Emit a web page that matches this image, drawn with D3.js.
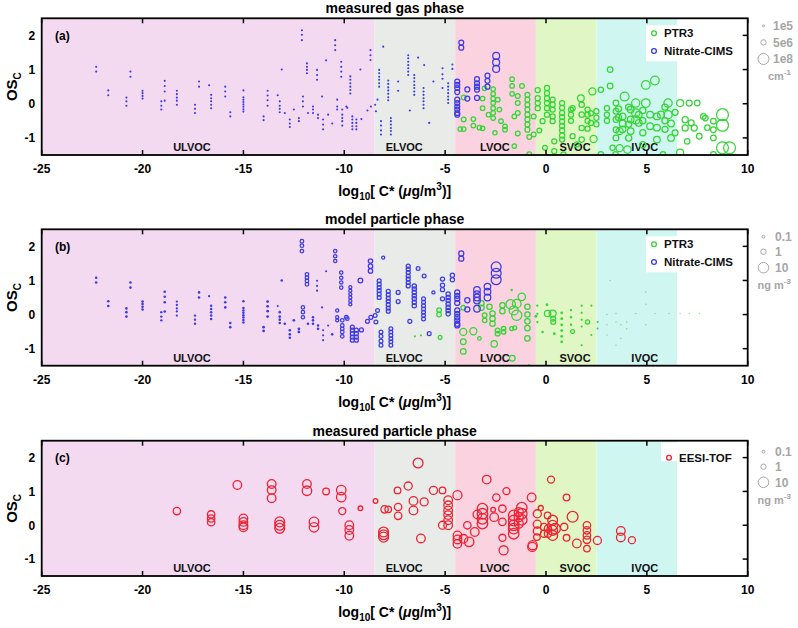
<!DOCTYPE html>
<html><head><meta charset="utf-8">
<script src="https://cdn.jsdelivr.net/npm/d3@7"></script>
<style>body{margin:0;background:#fff}svg{display:block;font-family:"Liberation Sans",Arial,Helvetica,sans-serif}</style>
</head><body><svg id="chart" width="798" height="628"></svg>
<script>
// ---------------- DATA ----------------
const xTicks = [-25, -20, -15, -10, -5, 0, 5, 10];
const yTicks = [-1, 0, 1, 2];
const regionNames = ['ULVOC', 'ELVOC', 'LVOC', 'SVOC', 'IVOC'];
const regionBounds = [-25, -8.5, -4.5, -0.5, 2.5, 6.5];
const regionLabelX = [-17.55, -7.03, -2.53, 1.44, 4.9];
const panelTitles = ['measured gas phase', 'model particle phase', 'measured particle phase'];
const panelLetters = ['(a)', '(b)', '(c)'];
const gasSizeLegend = [1e5, 5e6, 1e8];
const gasSizeLabels = ['1e5', '5e6', '1e8'];
const particleSizeLegend = [0.1, 1, 10];
const particleSizeLabels = ['0.1', '1', '10'];

// Nitrate-CIMS: columns of compounds (log10 C*, OSc values), gas conc (cm-3), model particle mass (ng m-3)
const nitrateX = [-22.3,-21.7,-20.8,-20.6,-20.0,-19.07,-18.9,-18.3,-17.4,-17.2,-16.7,-16.6,-15.9,-15.65,-15.0,-14.0,-13.8,-13.3,-13.2,-13.1,-12.95,-12.7,-12.5,-12.25,-12.1,-12.05,-11.85,-11.8,-11.55,-11.35,-11.3,-11.1,-11.05,-10.9,-10.8,-10.6,-10.45,-10.35,-10.15,-10.1,-9.9,-9.85,-9.7,-9.6,-9.4,-9.2,-9.15,-8.85,-8.7,-8.68,
  -8.47,-8.35,-8.43,-8.27,-8.18,-8.07,-7.82,-7.69,-7.33,-6.83,-6.75,-6.53,-6.34,-6.04,-6.07,-5.79,-5.58,-5.13,-4.85,-4.64,
  -4.2,-4.4,-3.9,-3.42,-2.9,-2.47];
const nitrateOSc = [[1.08,0.94],[0.39,0.25],[0.18,0.07,-0.06],[0.94,0.79],[0.38,0.31,0.23,0.15],[0.07,-0.06,-0.17],[0.67,0.52,0.36,0.09],[0.38,0.28,0.18,0.09,-0.03],[-0.03,-0.15,-0.27],[0.65,0.5],[0.54],[0.26,0.16,0.07,-0.03,-0.13],[0.5,0.36,0.21],[-0.25,-0.37],[0.39,0.19,0.12,0.05,-0.02,-0.09,-0.16,-0.23],[-0.37,-0.48],[0.38,0.24,0.1,-0.06],[0.25],[0.07,-0.06,-0.15,-0.25],[1.0],[-0.27],[-0.46,-0.58,-0.68],[-0.17],[-0.42,-0.51],[2.15,2.02,1.86],[0.21,0.07,-0.08],[1.18,1.08,0.99,0.89],[-0.27],[-0.08,-0.17,-0.27],[0.99,0.84,0.7],[-0.32,-0.42],[0.21],[-0.46,-0.61,-0.75],[1.27],[-0.32],[-0.58],[1.86,1.71,1.57],[0.12,-0.08,-0.17],[1.23,1.08,0.94,0.79],[-0.17,-0.32,-0.42,-0.51,-0.64],[-0.08],[-0.12],[0.8,0.7,0.6,0.5,0.4,0.3],[-0.37,-0.46,-0.56,-0.66,-0.75],[-0.46,-0.56,-0.66,-0.75],[1.0],[-0.45],[-0.2],[1.57,1.42,1.28],[-0.08],
  [-0.03],[0.12],[-0.22],[0.99,0.89,0.79,0.7,0.6,0.5],[-0.51,-0.64,-0.78,-0.9],[1.67],[0.68,0.58,0.48,0.39,0.29,0.19,0.1],[-0.42,-0.51,-0.61,-0.71,-0.8,-0.9],[0.65,0.38],[1.42,1.33,1.23,1.13,1.04,0.94,0.84],[-0.2],[0.84,0.75,0.65,0.55,0.46,0.36,0.26],[1.35],[1.13],[0.46,0.36,0.26,0.16,0.07,-0.03,-0.13],[-0.56],[0.65],[1.04,0.86,0.73,0.46],[0.6,0.5,0.41,0.31,0.21,0.12,0.02],[1.15,1.02],
  [1.79,1.64],[0.65,0.55,0.46,0.34,0.12,0.02,-0.08,-0.17,-0.27,-0.32],[0.42,0.15],[0.72,0.6,0.5,0.41,0.17],[0.82,0.67,0.5],[1.4,1.21,1.02]];
const nitrateGasConc = [1e5,1e5,1e5,1e5,1e5,1e5,1e5,1e5,1e5,1e5,1e5,1e5,1e5,1e5,1e5,1e5,1e5,1e5,1e5,1e5,1e5,1e5,1e5,1e5,1e5,1e5,1e5,1e5,1e5,1e5,1e5,1e5,1e5,1e5,1e5,1e5,1e5,1e5,1e5,1e5,1e5,1e5,1e5,1e5,1e5,1e5,1e5,1e5,1e5,1e5,
  1e5,1e5,1e5,1e5,1e5,1e5,1e5,1e5,1e5,1e5,1e5,1e5,1e5,1e5,1e5,1e5,1e5,1e5,1e5,1e5,
  3.5e6,3.5e6,3.5e6,3.5e6,3.5e6,1.4e7];
const nitrateParticleMass = [0.08,0.08,0.08,0.08,0.08,0.06,0.08,0.05,0.06,0.08,0.05,0.07,0.08,0.08,0.07,0.1,0.1,0.04,0.08,0.08,0.08,0.08,0.1,0.1,0.25,0.2,0.25,0.08,0.08,0.04,0.08,0.04,0.04,0.04,0.04,0.08,0.2,0.15,0.2,0.25,0.25,0.25,0.15,0.35,0.35,0.6,0.35,0.35,0.5,0.35,
  0.3,0.3,0.3,0.35,0.3,0.15,0.35,0.3,0.35,0.35,0.35,0.45,0.3,0.3,0.3,0.3,0.15,0.4,0.45,0.45,
  0.8,0.8,0.8,2,2,8];

// PTR3 gas phase: [log10 C*, [OSc...], conc cm-3]
const ptr3Gas = [
 [-4.08,[0.18,-0.46],3e6],[-4.25,[-0.74],2.5e6],[-4.08,[-0.74],2.5e6],[-3.6,[-0.45,-0.64],2.5e6],
 [-3.14,[0.15,-0.13,-0.72],2.5e6],[-3.3,[-0.7],2.5e6],[-3.05,[0.45],2.5e6],[-2.85,[-0.32],2.5e6],
 [-2.62,[0.43,0.29,0.15,0.02,-0.13,-0.27,-0.42],2.5e6],[-2.53,[-0.85],2e6],[-2.39,[0.12],2.5e6],
 [-2.31,[-0.17],2.5e6],[-2.23,[-0.51],2.5e6],[-2.03,[-0.66,-0.76],2.5e6],[-1.68,[0.72,0.52,0.29],2.5e6],
 [-1.57,[-0.37,-1.24],2.5e6],[-1.4,[0.23,0.02,-0.27,-0.87],3e6],[-1.19,[0.52],3e6],
 [-0.92,[0.26,0.12,-0.03,-0.17,-0.32,-0.46,-0.61,-0.76],3.5e6],[-0.83,[-0.97,-1.48],3e6],[-0.61,[-0.9,-0.37],3e6],
 [-0.41,[0.4,0.16,0.02,-0.13],4e6],[-0.33,[-0.78],3e6],[-0.17,[-0.51],4e6],[-0.05,[-1.29],3e6],
 [0.05,[0.46,0.31,0.16,0.02,-0.13,-0.32],4e6],[0.33,[0.12,-0.03,-0.17,-0.37,-0.51],4e6],[0.41,[-1.1,-1.39],4e6],
 [0.8,[0.02,-0.12,-0.27,-0.39,-0.52,-0.65,-0.78,-0.93,-1.05],4e6],[0.87,[-1.48],4e6],[1.24,[-0.17,-0.32,-0.5],4e6],
 [1.32,[-0.13,-0.95],4e6],[1.53,[-1.19],4e6],[1.73,[0.16],1.2e7],[1.77,[-0.03,-0.32,-0.71,-1.05],5e6],
 [2.06,[-0.17,-0.32,-0.5,-0.73],4e6],[2.3,[0.36],1.6e7],[2.36,[-1.03],1.6e7],[2.23,[-0.28,-0.56],4e6],
 [2.5,[-0.22,-0.41,-0.6],4e6],[2.72,[0.41,-1.48],4.5e6],[3.02,[-0.13,-0.32,-0.5],4.5e6],[3.18,[1.0,0.52],6e6],
 [3.3,[-1.29],4.5e6],[3.47,[0.02,-0.22,-0.46,-0.76,-1.0],6e6],[3.45,[-1.48],4.5e6],[3.6,[-0.15,-0.4],9e6],[3.65,[-0.8,-1.3],1.6e7],
 [3.9,[0.21],4e7],[3.8,[-0.37,-0.58,-0.75],1.2e7],[4.04,[-1.34],2e7],[4.1,[-0.1,-0.6,-1.0],9e6],[4.2,[-0.17,-0.46,-0.8],1.2e7],
 [4.45,[0.02,-0.27,-0.47],3e7],[4.6,[-0.32,-0.56],1.2e7],[4.8,[-0.2,-0.5,-0.85,-1.2],9e6],[4.95,[0.55,0.02],3.5e7],
 [5.16,[-0.32,-0.66],1.2e7],[5.4,[0.68],3.5e7],[5.5,[-0.37,-0.7,-1.05],1.2e7],[5.7,[-0.32],1.5e7],[5.8,[-1.48],4.5e6],
 [5.9,[-0.1,-0.5,-0.75],9e6],[6.05,[0.02,-0.32],3e7],[6.2,[-0.58,-1.0],1.2e7],[6.4,[-0.25,-0.85],8e6],
 [6.65,[0.02,-1.43],1.5e7],[6.9,[-0.47,-0.71],9e6],[7.0,[-1.1],6e6],[7.1,[0.02],8e6],[7.2,[-0.56],8e6],
 [7.35,[-0.71],8e6],[7.5,[0.02],6e6],[7.6,[-0.95],6e6],[7.8,[-0.37],6e6],[7.9,[-0.42],6e6],[8.0,[-0.7],5e6],
 [8.3,[-0.51,-0.76,-1.0,-1.48],6e6],[8.75,[-0.32,-0.63,-1.29],1.4e8],[9.1,[-1.29],1.4e8]
];

// PTR3 model particle phase: [log10 C*, [OSc...], mass ng m-3]
const ptr3Particle = [
 [-6.5,[-0.64],0.04],[-6.2,[-0.61],0.04],[-5.3,[0.13,0.0],0.6],[-5.25,[-0.67],0.3],
 [-4.1,[0.2],0.6],[-4.1,[-0.51],2.5],[-4.1,[-0.8,-1.08],1.2],[-3.6,[-0.49],2.5],[-3.3,[-0.7],0.25],
 [-3.2,[0.33,0.2],1],[-3.04,[-0.02,-0.17],0.6],[-2.8,[0.23],1],[-2.65,[0.03,-0.12,-0.27],1],
 [-2.57,[-0.86],1.8],[-2.4,[-0.47,-0.56],0.6],[-2.16,[0.27,0.1],1],[-2.1,[-0.41,-0.51],0.5],
 [-1.75,[0.3],7],[-1.7,[0.72],0.06],[-1.6,[0.12],6],[-1.45,[0.32],5],[-1.45,[-0.02],9],[-1.2,[0.52],3],
 [-1.7,[-0.41],0.35],[-1.55,[-0.39],0.35],[-1.67,[-1.28],1.2],[-0.92,[0.23,0.0,-0.2,-0.4,-0.7],1],
 [-0.84,[-1.5],0.1],[-0.5,[-0.05],0.1],[-0.43,[0.26,0.02,-0.22],0.05],[-0.17,[-0.51],0.08],
 [0.05,[0.29],0.1],[0.08,[0.03],1.8],[0.33,[0.03],2.5],[0.36,[-0.12,-0.22],0.7],[0.41,[-0.56],0.1],
 [0.78,[0.05,-0.12,-0.3,-0.47,-0.64,-0.8],0.1],[1.24,[0.13,-0.08,-0.3],0.06],[1.32,[-0.5],0.3],
 [1.77,[0.26,0.05,-0.15,-0.35,-0.9],0.04],[2.06,[-0.22],0.4],[2.25,[0.26,-0.6],0.04],[2.56,[-0.22,-0.41],0.03],
 [3.02,[0.0,-0.3,-0.6],0.012],[3.18,[1.0],0.012],[3.47,[0.03,-0.22,-0.9],0.012],[3.71,[-0.3,-0.7],0.012],
 [4.0,[-0.22,-0.42],0.012],[4.45,[0.03],0.012],[4.95,[0.66,0.3,-0.3],0.012],[5.4,[0.03],0.008],
 [6.1,[0.03],0.008],[6.65,[0.03],0.008],[7.1,[0.03],0.008],[7.6,[0.03],0.008]
];

// EESI-TOF measured particle phase: [log10 C*, [OSc...], mass ng m-3]
const eesiParticle = [
 [-18.3,[0.42],3],[-16.6,[0.32,0.2,0.09],3],[-15.3,[1.19],5],[-15.0,[0.2,0.1,0.0,-0.06],5],
 [-13.6,[1.22,1.04,0.8],5],[-13.2,[0.1,0.0,-0.09],8],[-11.85,[1.22],5],[-11.85,[1.02],7],
 [-11.5,[0.1,-0.06],7],[-10.9,[1.0],2],[-10.15,[1.04,0.83],7],[-10.1,[0.42],2.5],
 [-9.75,[0.0,-0.14,-0.31],5],[-9.2,[0.5],0.6],[-8.45,[0.72],0.6],[-8.0,[0.47],3],
 [-8.05,[-0.2,-0.28,-0.35],8],[-7.82,[0.47],2],[-7.36,[1.03],2],[-7.33,[0.54,0.28],3],
 [-6.83,[1.16],4],[-6.57,[0.72,0.44],5],[-6.34,[1.84],8],[-6.2,[-0.39],5],[-6.04,[0.69],4],
 [-5.58,[1.03],4],[-5.13,[1.03],2],[-5.13,[0.0],4],[-4.85,[0.74,0.59,0.44,0.3,0.15,0.0],5],
 [-4.39,[0.89],6],[-4.39,[-0.3,-0.42,-0.55],5],[-4.09,[-0.4],5],[-3.81,[-0.49],7],[-3.9,[0.0],3],
 [-3.53,[-0.2],5],[-3.4,[0.32],5],[-3.15,[0.49,0.34,0.19,0.05],10],[-2.94,[1.35],5],[-2.62,[0.46],0.6],
 [-2.57,[0.24],5],[-2.46,[0.82],3],[-2.16,[0.49,0.1],3],[-2.16,[-0.37],2.5],[-2.1,[-0.74],6],
 [-1.96,[1.01],2.5],[-1.6,[0.29,0.14,0.0,-0.1,-0.25],10],[-1.35,[0.39,0.24,0.05],6],[-1.2,[0.52,0.34,0.16],10],
 [-0.71,[0.82],5],[-0.68,[-0.64],6],[-0.43,[0.34,0.03,-0.17],4],[-0.26,[0.51],0.8],[-0.1,[-0.05,-0.25],2.5],
 [0.25,[1.35],2.5],[0.08,[0.29],2],[1.02,[0.82],2],[0.33,[0.15,0.0,-0.15,-0.3],8],[0.45,[-0.1],10],
 [0.1,[-0.1,-0.25],3],[-0.45,[-0.35],2],[-0.66,[-0.59],6],[0.9,[-0.05],3],[1.02,[-0.37],2],
 [1.32,[0.25],11],[1.53,[-0.54],5],[2.03,[0.0,-0.15,-0.3,-0.43],3],[2.03,[-0.69],2],[2.55,[-0.45],4],
 [3.71,[-0.17,-0.36],5],[4.26,[-0.44],2.5]
];

// ---------------- STYLE / LAYOUT ----------------
const regionColors = ['#f4daf1', '#e9ebe9', '#fbd2df', '#e0f7c5', '#d0f6f2'];
const COL = {ptr3: '#33d633', nitrate: '#3b3be6', eesi: '#ee2233', grey: '#a6a6a6'};
const L = 41.7, R = 747.7;
const panels = [
  {top: 18.3, bottom: 155, kind: 'gas'},
  {top: 229.3, bottom: 365.7, kind: 'model'},
  {top: 440.7, bottom: 576, kind: 'eesi'}
];

const svg = d3.select('#chart');
const x = d3.scaleLinear().domain([-25, 10]).range([L, R]);
const rGas = d3.scalePow().exponent(0.24).domain([0, 1e5]).range([0, 1.05]);
const rPart = d3.scalePow().exponent(0.29).domain([0, 1]).range([0, 2.7]);

const expand = cols => cols.flatMap(([xv, ys, s]) => ys.map(y => ({x: xv, y, s})));
const nitrateGasPts = nitrateX.flatMap((xv, i) => nitrateOSc[i].map(y => ({x: xv, y, s: nitrateGasConc[i]})));
const nitratePartPts = nitrateX.flatMap((xv, i) => nitrateOSc[i].map(y => ({x: xv, y, s: nitrateParticleMass[i]})));

panels.forEach((p, pi) => {
  const g = svg.append('g');
  const y = d3.scaleLinear().domain([-1.5, 2.5]).range([p.bottom, p.top]);
  const clipId = 'clip' + pi;
  svg.append('clipPath').attr('id', clipId).append('rect')
    .attr('x', L).attr('y', p.top).attr('width', R - L).attr('height', p.bottom - p.top);

  // regions
  g.selectAll('rect.reg').data(regionNames).join('rect')
    .attr('x', (d, i) => x(regionBounds[i]))
    .attr('width', (d, i) => x(regionBounds[i + 1]) - x(regionBounds[i]))
    .attr('y', p.top).attr('height', p.bottom - p.top)
    .attr('fill', (d, i) => regionColors[i]);
  g.selectAll('text.reg').data(regionNames).join('text')
    .attr('x', (d, i) => x(regionLabelX[i])).attr('y', p.bottom - 4)
    .attr('text-anchor', 'middle').attr('font-size', 11).attr('font-weight', 'bold')
    .attr('fill', '#111').text(d => d);

  // points
  const pg = g.append('g').attr('clip-path', `url(#${clipId})`);
  const drawPts = (pts, rs, color, sw) => {
    pg.append('g').selectAll('circle').data(pts).join('circle')
      .attr('cx', d => x(d.x)).attr('cy', d => y(d.y))
      .attr('r', d => rs(d.s))
      .attr('fill', d => rs(d.s) < 1.45 ? color : 'none')
      .attr('fill-opacity', d => rs(d.s) < 0.9 ? 0.6 : 1)
      .attr('stroke', d => rs(d.s) < 1.45 ? 'none' : color)
      .attr('stroke-width', sw);
  };
  if (p.kind === 'gas') {
    drawPts(expand(ptr3Gas), rGas, COL.ptr3, 1.25);
    drawPts(nitrateGasPts, rGas, COL.nitrate, 1.25);
  } else if (p.kind === 'model') {
    drawPts(expand(ptr3Particle), rPart, COL.ptr3, 1.25);
    drawPts(nitratePartPts, rPart, COL.nitrate, 1.25);
  } else {
    drawPts(expand(eesiParticle), rPart, COL.eesi, 1.3);
  }

  // ticks (top, bottom, right) inward
  const tk = g.append('g').attr('stroke', '#000').attr('stroke-width', 1.5);
  xTicks.forEach(t => {
    tk.append('line').attr('x1', x(t)).attr('x2', x(t)).attr('y1', p.top).attr('y2', p.top + 5);
    tk.append('line').attr('x1', x(t)).attr('x2', x(t)).attr('y1', p.bottom).attr('y2', p.bottom - 5);
  });
  yTicks.forEach(t => {
    tk.append('line').attr('x1', R).attr('x2', R - 5).attr('y1', y(t)).attr('y2', y(t));
  });
  // frame
  g.append('rect').attr('x', L).attr('y', p.top).attr('width', R - L).attr('height', p.bottom - p.top)
    .attr('fill', 'none').attr('stroke', '#000').attr('stroke-width', 1.8);

  // tick labels
  g.selectAll('text.xt').data(xTicks).join('text')
    .attr('x', d => x(d)).attr('y', p.bottom + 18).attr('text-anchor', 'middle')
    .attr('font-size', 12).attr('font-weight', 'bold').text(d => d);
  g.selectAll('text.yt').data(yTicks).join('text')
    .attr('x', L - 6.5).attr('y', d => y(d)).attr('dy', '0.36em').attr('text-anchor', 'end')
    .attr('font-size', 12).attr('font-weight', 'bold').text(d => d);

  // axis titles
  const xt = g.append('text').attr('x', (L + R) / 2).attr('y', p.bottom + 41)
    .attr('text-anchor', 'middle').attr('font-size', 14).attr('font-weight', 'bold');
  xt.append('tspan').text('log');
  xt.append('tspan').attr('dy', 4).attr('font-size', 10).text('10');
  xt.append('tspan').attr('dy', -4).text('[ C* (');
  xt.append('tspan').attr('font-style', 'italic').text('\u03bc');
  xt.append('tspan').text('g/m');
  xt.append('tspan').attr('dy', -6).attr('font-size', 10).text('3');
  xt.append('tspan').attr('dy', 6).text(')]');

  const cy = (p.top + p.bottom) / 2;
  const yt = g.append('text').attr('transform', `translate(17,${cy}) rotate(-90)`)
    .attr('text-anchor', 'middle').attr('font-size', 15).attr('font-weight', 'bold');
  yt.append('tspan').text('OS');
  yt.append('tspan').attr('dy', 4).attr('font-size', 10).text('C');

  // title + letter
  g.append('text').attr('x', (L + R) / 2).attr('y', p.top - 5).attr('text-anchor', 'middle')
    .attr('font-size', 14).attr('font-weight', 'bold').text(panelTitles[pi]);
  g.append('text').attr('x', 55).attr('y', p.top + 21.5)
    .attr('font-size', 12).attr('font-weight', 'bold').text(panelLetters[pi]);

  // series legend
  const lg = g.append('g');
  const entries = p.kind === 'eesi' ? [['EESI-TOF', COL.eesi]] : [['PTR3', COL.ptr3], ['Nitrate-CIMS', COL.nitrate]];
  const bx = p.kind === 'eesi' ? 661 : 646;
  const by = p.kind === 'eesi' ? p.top + 2 : p.top + 7;
  lg.append('rect').attr('x', bx).attr('y', by).attr('width', 738 - bx)
    .attr('height', entries.length * 17.5 + 1).attr('fill', '#fff');
  entries.forEach((e, i) => {
    const ey = p.kind === 'eesi' ? p.top + 17 : p.top + 15 + i * 17.7;
    const mx = p.kind === 'eesi' ? 669 : 654;
    lg.append('circle').attr('cx', mx).attr('cy', ey).attr('r', 2.4)
      .attr('fill', 'none').attr('stroke', e[1]).attr('stroke-width', 1.3);
    lg.append('text').attr('x', mx + 10).attr('y', ey).attr('dy', '0.36em')
      .attr('font-size', 11.5).attr('font-weight', 'bold').attr('fill', '#111').text(e[0]);
  });

  // size legend
  const sg = g.append('g').attr('fill', COL.grey).attr('font-size', 12).attr('font-weight', 'bold');
  const isGas = p.kind === 'gas';
  const vals = isGas ? gasSizeLegend : particleSizeLegend;
  const labs = isGas ? gasSizeLabels : particleSizeLabels;
  const rs = isGas ? rGas : rPart;
  const offs = p.kind === 'eesi' ? [11, 26, 41.6, 59.3] : (isGas ? [7.5, 24.1, 40.7, 57.5] : [7.4, 22.4, 38.4, 55.7]);
  vals.forEach((v, i) => {
    sg.append('circle').attr('cx', 763.5).attr('cy', p.top + offs[i]).attr('r', rs(v))
      .attr('fill', 'none').attr('stroke', COL.grey).attr('stroke-width', 1);
    sg.append('text').attr('x', isGas ? 773 : 775).attr('y', p.top + offs[i]).attr('dy', '0.36em').text(labs[i]);
  });
  const ut = sg.append('text').attr('x', isGas ? 768 : 757.5).attr('y', p.top + offs[3]).attr('dy', '0.36em')
    .attr('font-size', 11);
  ut.append('tspan').text(isGas ? 'cm' : 'ng m');
  ut.append('tspan').attr('dy', -5).attr('font-size', 8).text(isGas ? '-1' : '-3');
});
</script></body></html>
